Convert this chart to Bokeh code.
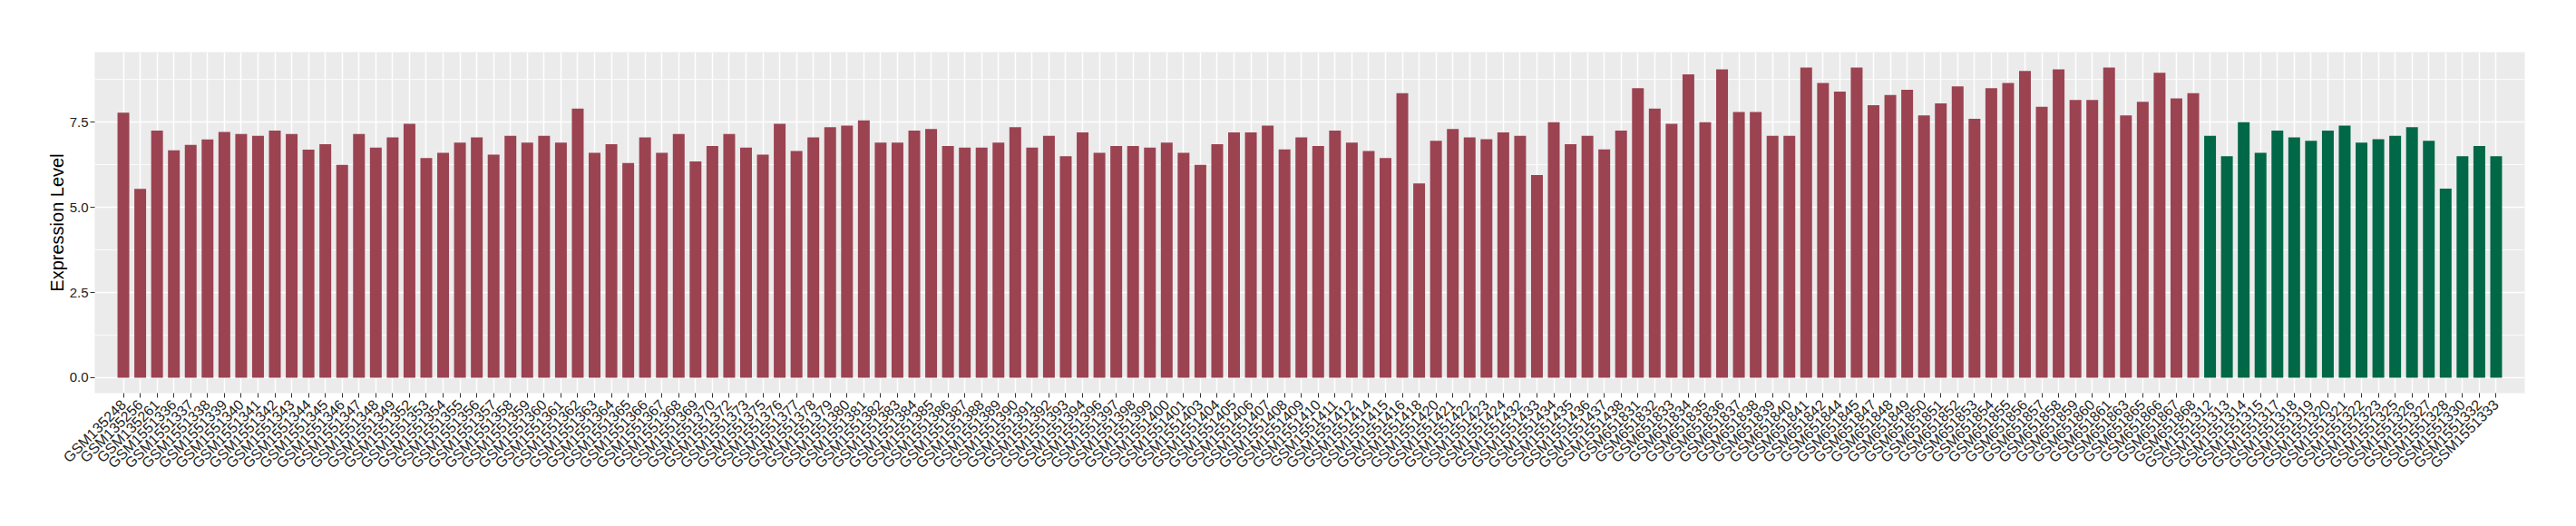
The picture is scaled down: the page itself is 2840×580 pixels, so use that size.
import numpy as np
from bokeh.plotting import figure
from bokeh.models import FactorRange, Range1d, SingleIntervalTicker, ColumnDataSource, CustomJSTickFormatter
from bokeh.embed import file_html
from bokeh.resources import INLINE

group1_samples = ["GSM135248", "GSM135256", "GSM135261"] + \
    ["GSM%d" % n for n in list(range(1551336, 1551350)) + list(range(1551352, 1551371)) +
     [1551372, 1551373] + list(range(1551375, 1551395)) + list(range(1551396, 1551402)) +
     list(range(1551403, 1551413)) + [1551414, 1551415, 1551416, 1551418] +
     list(range(1551420, 1551425)) + list(range(1551432, 1551439))] + \
    ["GSM%d" % n for n in list(range(651831, 651843)) + [651844, 651845] +
     list(range(651847, 651862)) + [651863] + list(range(651865, 651869))]

group2_samples = ["GSM%d" % n for n in [1551312, 1551313, 1551314, 1551315] +
                  list(range(1551317, 1551324)) + list(range(1551325, 1551329)) +
                  [1551330, 1551332, 1551333]]

group1_values = [
    7.78, 5.54, 7.25, 6.67, 6.83, 6.99, 7.21, 7.15, 7.10, 7.25, 7.15, 6.69,
    6.85, 6.25, 7.15, 6.75, 7.05, 7.45, 6.45, 6.60, 6.90, 7.05, 6.55, 7.10,
    6.90, 7.10, 6.90, 7.90, 6.60, 6.85, 6.30, 7.05, 6.60, 7.15, 6.35, 6.80,
    7.15, 6.75, 6.55, 7.45, 6.65, 7.05, 7.35, 7.40, 7.55, 6.90, 6.90, 7.25,
    7.30, 6.80, 6.75, 6.75, 6.90, 7.35, 6.75, 7.10, 6.50, 7.20, 6.60, 6.80,
    6.80, 6.75, 6.90, 6.60, 6.25, 6.85, 7.20, 7.20, 7.40, 6.70, 7.05, 6.80,
    7.25, 6.90, 6.65, 6.45, 8.35, 5.70, 6.95, 7.30, 7.05, 7.00, 7.20, 7.10,
    5.95, 7.50, 6.85, 7.10, 6.70, 7.25, 8.50, 7.90, 7.45, 8.90, 7.50, 9.05,
    7.80, 7.80, 7.10, 7.10, 9.10, 8.65, 8.40, 9.10, 8.00, 8.30, 8.45, 7.70,
    8.05, 8.55, 7.60, 8.50, 8.65, 9.00, 7.95, 9.05, 8.15, 8.15, 9.10, 7.70,
    8.10, 8.95, 8.20, 8.35]

group2_values = [7.10, 6.50, 7.50, 6.60, 7.25, 7.05, 6.95, 7.25, 7.40, 6.90,
                 7.00, 7.10, 7.35, 6.95, 5.55, 6.50, 6.80, 6.50]

group1_color = "#9B4351"
group2_color = "#006846"

samples = group1_samples + group2_samples
values = group1_values + group2_values
colors = [group1_color] * len(group1_samples) + [group2_color] * len(group2_samples)

src = ColumnDataSource(dict(x=samples, top=values, color=colors))

vmax = max(values)
p = figure(
    width=2824, height=564,
    x_range=FactorRange(*samples, range_padding=1.2, range_padding_units="absolute",
                        factor_padding=0),
    y_range=Range1d(-0.05 * vmax, 1.05 * vmax),
    output_backend="svg", toolbar_location=None,
    min_border_left=104, min_border_right=41, min_border_top=57, min_border_bottom=131,
)
p.vbar(x="x", top="top", bottom=0, width=0.7, color="color", source=src, line_color=None)

p.background_fill_color = "#EBEBEB"
p.border_fill_color = "white"
p.outline_line_color = None

p.xgrid.grid_line_color = "white"
p.xgrid.grid_line_width = 1.5
p.ygrid.grid_line_color = "white"
p.ygrid.grid_line_width = 1.5
p.ygrid.minor_grid_line_color = "white"
p.ygrid.minor_grid_line_width = 0.8

p.yaxis.ticker = SingleIntervalTicker(interval=2.5, num_minor_ticks=2)
p.yaxis.formatter = CustomJSTickFormatter(code="return tick.toFixed(1);")

for ax in (p.xaxis, p.yaxis):
    ax.axis_line_color = None
    ax.major_tick_line_color = "#333333"
    ax.major_tick_line_width = 1
    ax.major_tick_out = 5
    ax.major_tick_in = 0
    ax.minor_tick_line_color = None
    ax.major_label_text_font = "Liberation Sans"
    ax.major_label_text_color = "#222222"

p.yaxis.major_label_standoff = 2
p.xaxis.major_label_standoff = 5
p.yaxis.major_label_text_font_size = "15px"
p.xaxis.major_label_text_font_size = "16px"
p.xaxis.major_label_orientation = np.pi / 4
p.yaxis.axis_label = "Expression Level"
p.yaxis.axis_label_text_font = "Liberation Sans"
p.yaxis.axis_label_text_font_style = "normal"
p.yaxis.axis_label_text_font_size = "20px"
p.yaxis.axis_label_text_color = "black"
p.yaxis.axis_label_standoff = 0

open("out.html", "w").write(file_html(p, INLINE))
